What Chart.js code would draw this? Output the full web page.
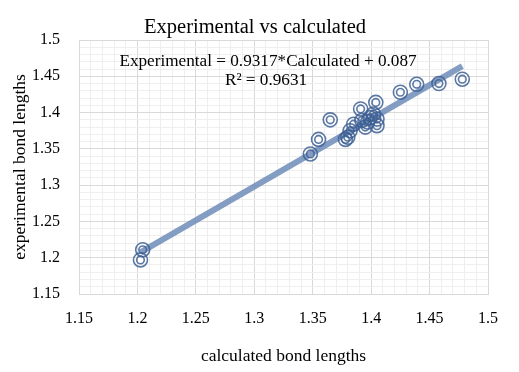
<!DOCTYPE html>
<html>
<head>
<meta charset="utf-8">
<script src="https://cdn.jsdelivr.net/npm/chart.js@4/dist/chart.umd.min.js"></script>
<style>
  body { margin: 0; background: #fff; }
  #wrap { width: 519px; height: 372px; }
</style>
</head>
<body>
<div id="wrap"><canvas id="scatter" width="519" height="372"></canvas></div>
<script>
// valeurs
const calculated = [1.2026, 1.2045, 1.348, 1.355, 1.365, 1.378, 1.380, 1.382, 1.385, 1.391, 1.392,
  1.395, 1.397, 1.399, 1.402, 1.404, 1.405, 1.405, 1.425, 1.439, 1.458, 1.478];
const experimental = [1.197, 1.211, 1.343, 1.363, 1.390, 1.363, 1.366, 1.375, 1.384, 1.405, 1.389,
  1.380, 1.387, 1.393, 1.398, 1.414, 1.391, 1.382, 1.428, 1.439, 1.440, 1.446];

// droite de tendance (équation affichée sur le graphique)
const slope = 0.9317;
const intercept = 0.087;
const rSquared = '0.9631';

const axisMin = 1.15;
const axisMax = 1.5;

const chartTitle = 'Experimental vs calculated';
const serif = 'Liberation Serif';
const ringColor = 'rgba(62, 96, 148, 0.85)';

const points = calculated.map((x, i) => ({ x: x, y: experimental[i] }));
const xMin = Math.min(...calculated);
const xMax = Math.max(...calculated);
const trend = [xMin, xMax].map(x => ({ x: x, y: slope * x + intercept }));

function isMajor(v) {
  return Math.round(v * 100) % 5 === 0;
}

function gridColor(c) {
  if (!c.tick) return '#d9d9d9';
  return isMajor(c.tick.value) ? '#d9d9d9' : '#efefef';
}

function tickLabel(v) {
  return isMajor(v) ? String(+v.toFixed(2)) : '';
}

// titre + texte de l'équation
const textPlugin = {
  id: 'equation',
  afterDatasetsDraw(chart) {
    const ctx = chart.ctx;
    ctx.save();
    ctx.fillStyle = '#000';
    ctx.textAlign = 'center';
    ctx.textBaseline = 'middle';
    ctx.font = '20.5px "' + serif + '"';
    ctx.fillText(chartTitle, 255, 27.5);
    ctx.font = '17.2px "' + serif + '"';
    ctx.fillText('Experimental = ' + slope + '*Calculated + ' + intercept, 268, 61);
    ctx.fillText('R² = ' + rSquared, 266, 80);
    ctx.restore();
  }
};

new Chart(document.getElementById('scatter'), {
  type: 'scatter',
  data: {
    datasets: [
      {
        label: 'trend',
        type: 'line',
        data: trend,
        borderColor: 'rgba(110, 140, 184, 0.85)',
        borderWidth: 6,
        pointRadius: 0,
        borderCapStyle: 'butt',
        order: 3
      },
      {
        label: 'outer',
        data: points,
        pointRadius: 7,
        pointBorderWidth: 1.6,
        pointBorderColor: ringColor,
        pointBackgroundColor: 'rgba(0,0,0,0)',
        order: 1
      },
      {
        label: 'inner',
        data: points,
        pointRadius: 3.8,
        pointBorderWidth: 1.6,
        pointBorderColor: ringColor,
        pointBackgroundColor: 'rgba(0,0,0,0)',
        order: 1
      }
    ]
  },
  options: {
    responsive: false,
    animation: false,
    layout: { padding: { left: 0, right: 31, top: 40, bottom: 0 } },
    plugins: {
      legend: { display: false },
      tooltip: { enabled: false },
      title: { display: false }
    },
    scales: {
      x: {
        type: 'linear',
        min: axisMin,
        max: axisMax,
        afterFit: (s) => { s.height = 78; },
        border: { color: '#d9d9d9' },
        grid: { color: gridColor, drawTicks: false },
        ticks: {
          stepSize: 0.01,
          autoSkip: false,
          maxRotation: 0,
          padding: 15,
          color: '#000',
          font: { family: serif, size: 16 },
          callback: tickLabel
        },
        title: {
          display: true,
          text: 'calculated bond lengths',
          color: '#000',
          font: { family: serif, size: 17.5 },
          padding: { top: 0, bottom: 5.5 }
        }
      },
      y: {
        type: 'linear',
        min: axisMin,
        max: axisMax,
        afterFit: (s) => { s.width = 79; },
        border: { color: '#d9d9d9' },
        grid: { color: gridColor, drawTicks: false },
        ticks: {
          stepSize: 0.01,
          autoSkip: false,
          padding: 19,
          color: '#000',
          font: { family: serif, size: 16 },
          callback: tickLabel
        },
        title: {
          display: true,
          text: 'experimental bond lengths',
          color: '#000',
          font: { family: serif, size: 17.5 },
          padding: { top: 10, bottom: 0 }
        }
      }
    }
  },
  plugins: [textPlugin]
});
</script>
</body>
</html>
